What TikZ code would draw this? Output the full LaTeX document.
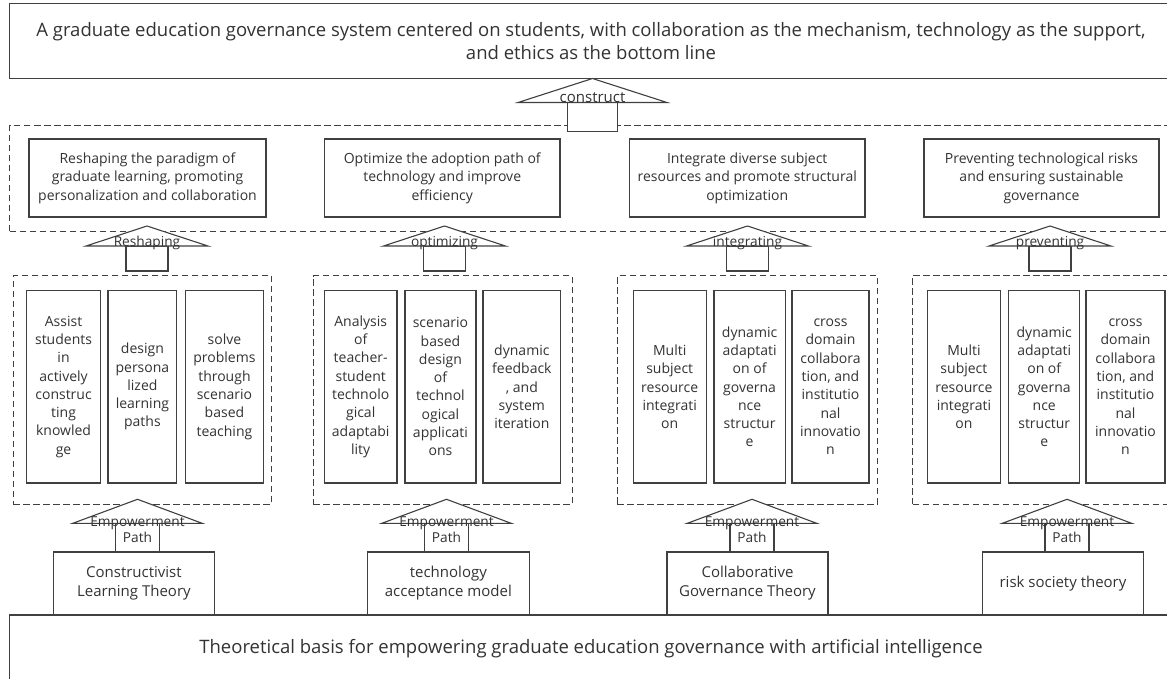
\documentclass[tikz,border=0pt]{standalone}
\usepackage{fontspec}
\setmainfont{Open Sans}
\definecolor{linec}{HTML}{404040}
\definecolor{inkc}{HTML}{333333}

% upward block arrow: centre x, tip y, base y, half base width, half stem width, stem foot y
\newcommand\upblock[6]{%
  \draw[blockline] ({#1-#5},#3) rectangle ({#1+#5},#6);
  \draw[blockline] (#1,#2) -- ({#1+#4},#3) -- ({#1-#4},#3) -- cycle;}

\tikzset{
  frame/.style={draw=linec, line width=1.2pt, fill=white, inner sep=0pt,
    text=inkc, align=center},
  dashframe/.style={draw=linec, line width=1pt, dash pattern=on 6.5pt off 3.5pt,
    inner sep=0pt},
  blockline/.style={draw=linec, line width=1.1pt, fill=white},
  headtext/.style={font=\fontsize{18.5}{22.5}\selectfont},
  goalcell/.style={frame, minimum height=78, font=\fontsize{14}{18.5}\selectfont},
  cell/.style={frame, minimum height=192.5, font=\fontsize{14}{18.3}\selectfont},
  theory/.style={frame, minimum height=62.5, font=\fontsize{15}{19.3}\selectfont},
  arrowlbl/.style={inner sep=0pt, text=inkc, align=center,
    font=\fontsize{13.7}{16}\selectfont},
}

\begin{document}
\begin{tikzpicture}[x=1pt, y=-1pt]
\useasboundingbox (0,0) rectangle (1167,678);
\fill[white] (0,0) rectangle (1167,678);
\clip (0,0) rectangle (1167,678);

% overall goal
\node[frame, headtext, minimum width=1163, minimum height=75] (goal) at (591,41)
  {A graduate education governance system centered on students, with collaboration as the mechanism, technology as the support,\\
   and ethics as the bottom line};

% layer of the four objectives
\node[dashframe, minimum width=1162.8, minimum height=105.3] (aims) at (591,178.35) {};
\node[goalcell, minimum width=237]   (u1) at (147.5,178)  {Reshaping the paradigm of\\graduate learning, promoting\\personalization and collaboration};
\node[goalcell, minimum width=235.5] (u2) at (442.25,178) {Optimize the adoption path of\\technology and improve\\efficiency};
\node[goalcell, minimum width=235.5] (u3) at (747.25,178) {Integrate diverse subject\\resources and promote structural\\optimization};
\node[goalcell, minimum width=235]   (u4) at (1041.5,178) {Preventing technological risks\\and ensuring sustainable\\governance};

% groups of measures
\node[dashframe, minimum width=258.3, minimum height=228.3] (g1) at (142.55,389.85) {};
\node[dashframe, minimum width=259,   minimum height=228.3] (g2) at (442.5,389.85) {};
\node[dashframe, minimum width=260.2, minimum height=228.3] (g3) at (747.5,389.85) {};
\node[dashframe, minimum width=259.5, minimum height=228.3] (g4) at (1042.25,389.85) {};

\node[cell, minimum width=73.5] (b11) at (63.55,386.75)  {Assist\\students\\in\\actively\\construc\\ting\\knowled\\ge};
\node[cell, minimum width=68.8] (b12) at (142.4,386.75)  {design\\persona\\lized\\learning\\paths};
\node[cell, minimum width=77.7] (b13) at (224.45,386.75) {solve\\problems\\through\\scenario\\based\\teaching};

\node[cell, minimum width=72.4] (b21) at (360.7,386.75)  {Analysis\\of\\teacher-\\student\\technolo\\gical\\adaptabi\\lity};
\node[cell, minimum width=71.1] (b22) at (440.45,386.75) {scenario\\based\\design\\of\\technol\\ogical\\applicati\\ons};
\node[cell, minimum width=77.7] (b23) at (521.85,386.75) {dynamic\\feedback\\, and\\system\\iteration};

\node[cell, minimum width=73]   (b31) at (669.7,386.75)  {Multi\\subject\\resource\\integrati\\on};
\node[cell, minimum width=71.2] (b32) at (749.6,386.75)  {dynamic\\adaptati\\on of\\governa\\nce\\structur\\e};
\node[cell, minimum width=77]   (b33) at (830.5,386.75)  {cross\\domain\\collabora\\tion, and\\institutio\\nal\\innovatio\\n};

\node[cell, minimum width=73]   (b41) at (963.9,386.75)  {Multi\\subject\\resource\\integrati\\on};
\node[cell, minimum width=71.1] (b42) at (1044.25,386.75) {dynamic\\adaptati\\on of\\governa\\nce\\structur\\e};
\node[cell, minimum width=79]   (b43) at (1125.5,386.75) {cross\\domain\\collabora\\tion, and\\institutio\\nal\\innovatio\\n};

% theoretical foundations
\node[frame, minimum width=1162.8, minimum height=68] (basis) at (591,649)
  {\fontsize{18.5}{22}\selectfont Theoretical basis for empowering graduate education governance with artificial intelligence};
\node[theory, minimum width=160.8] (t1) at (133.9,583.25)  {Constructivist\\Learning Theory};
\node[theory, minimum width=161.9] (t2) at (448.35,583.25) {technology\\acceptance model};
\node[theory, minimum width=161]   (t3) at (747.5,583.25)  {Collaborative\\Governance Theory};
\node[theory, minimum width=161]   (t4) at (1063,583.25)   {risk society theory};

% block arrows between the layers
\upblock{592.5}{78.5}{102.5}{74.5}{25.2}{131.7}
\node[arrowlbl, font=\fontsize{15}{18}\selectfont] (lc) at (592.5,97.5) {construct};

\upblock{147}{226}{246}{61}{21}{271}
\upblock{444.5}{226}{246}{61}{21}{271}
\upblock{747.5}{226}{246}{61}{21}{271}
\upblock{1050}{226}{246}{61}{21}{271}
\node[arrowlbl] (l1) at (147,243)   {Reshaping};
\node[arrowlbl] (l2) at (444.5,243) {optimizing};
\node[arrowlbl] (l3) at (747.5,243) {integrating};
\node[arrowlbl] (l4) at (1050,243)  {preventing};

\upblock{137.5}{499.3}{523.3}{64.7}{22}{552}
\upblock{446.5}{499.3}{523.3}{64.7}{22}{552}
\upblock{752}{499.3}{523.3}{64.7}{22}{552}
\upblock{1067}{499.3}{523.3}{64.7}{22}{552}
\node[arrowlbl] (e1) at (137.5,530) {Empowerment\\Path};
\node[arrowlbl] (e2) at (446.5,530) {Empowerment\\Path};
\node[arrowlbl] (e3) at (752,530)   {Empowerment\\Path};
\node[arrowlbl] (e4) at (1067,530)  {Empowerment\\Path};
\end{tikzpicture}
\end{document}
